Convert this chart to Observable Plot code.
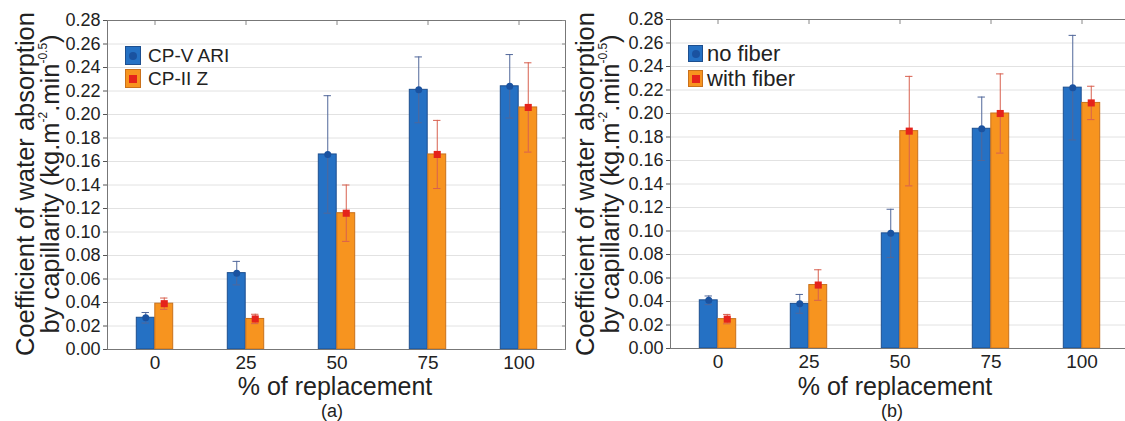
<!DOCTYPE html>
<html>
<head>
<meta charset="utf-8">
<script src="https://cdn.jsdelivr.net/npm/d3@7"></script>
<script src="https://cdn.jsdelivr.net/npm/@observablehq/plot@0.6"></script>
<style>
  body { margin: 0; background: #fff; font-family: "Liberation Sans", Arial, sans-serif; color: #222; }
  #wrap { position: relative; width: 1125px; height: 421px; overflow: hidden; background: #fff; }
  .panel { position: absolute; top: 0; width: 580px; height: 421px; }
  .panel svg { max-width: none !important; }
  .ytitle { position: absolute; width: 400px; height: 50px; line-height: 25px; font-size: 25.5px;
            text-align: center; transform: rotate(-90deg); white-space: nowrap; color: #222; }
  .ytitle sup { font-size: 12px; vertical-align: 0; position: relative; top: -12px; }
  .xtitle { position: absolute; width: 300px; text-align: center; font-size: 25px; line-height: 25px; color: #222; }
  .sub { position: absolute; width: 60px; text-align: center; font-size: 18px; line-height: 18px; color: #222; }
  .leg { position: absolute; display: flex; align-items: center; white-space: nowrap; color: #222; }
  .sw { position: relative; box-sizing: border-box; flex: none; }
  .sw i { position: absolute; left: 50%; top: 50%; transform: translate(-50%, -50%); }
  .lt { display: inline-block; overflow: visible; }
</style>
</head>
<body>
<div id="wrap">
  <div class="panel" id="pa" style="left:0px"></div>
  <div class="panel" id="pb" style="left:560px"></div>

  <div class="ytitle" style="left:-162.5px; top:159px">Coefficient of water absorption<br>by capillarity (kg.m<sup>-2</sup>.min<sup>-0.5</sup>)</div>
  <div class="ytitle" style="left:397.5px; top:159px">Coefficient of water absorption<br>by capillarity (kg.m<sup>-2</sup>.min<sup>-0.5</sup>)</div>

  <div class="xtitle" style="left:185px; top:374px">% of replacement</div>
  <div class="xtitle" style="left:745px; top:374px">% of replacement</div>
  <div class="sub" style="left:302px; top:402px">(a)</div>
  <div class="sub" style="left:862px; top:402px">(b)</div>

  <div id="lega"></div>
  <div id="legb"></div>
</div>
<script>
// ---------- data ----------
const categories = ["0", "25", "50", "75", "100"];
const yTicks = [0, 0.02, 0.04, 0.06, 0.08, 0.10, 0.12, 0.14, 0.16, 0.18, 0.20, 0.22, 0.24, 0.26, 0.28];

// panel (a)
const seriesA = ["CP-V ARI", "CP-II Z"];
const cpvMean = [0.027, 0.065, 0.166, 0.221, 0.224];
const cpvErr  = [0.0045, 0.010, 0.050, 0.028, 0.027];
const cpiiMean = [0.039, 0.026, 0.116, 0.166, 0.206];
const cpiiErr  = [0.0048, 0.004, 0.024, 0.029, 0.038];

// panel (b)
const seriesB = ["no fiber", "with fiber"];
const noFiberMean = [0.041, 0.038, 0.098, 0.187, 0.222];
const noFiberErr  = [0.0037, 0.008, 0.0205, 0.027, 0.0445];
const withFiberMean = [0.025, 0.054, 0.185, 0.200, 0.209];
const withFiberErr  = [0.004, 0.013, 0.0466, 0.0337, 0.0142];

// ---------- styles ----------
const blueFill = "#2571c4", blueStroke = "#1d4f8f", blueDot = "#1a52a0", blueErr = "#50679a";
const orFill = "#f7941f", orStroke = "#c9711c", redDot = "#e5231b", orErr = "#d8604f";

function rows(means, errs) {
  return categories.map((c, i) => ({cat: c, mean: means[i], lo: means[i] - errs[i], hi: means[i] + errs[i]}));
}

function panel(s0, s1, opts) {
  const W = 580, H = 421;
  const ml = opts.ml, mr = opts.mr, mt = opts.mt, mb = opts.mb;
  const bw = (W - ml - mr) / categories.length;
  const barW = 18.5, capW = 8;
  const half = bw / 2;
  const errMarks = (data, side, color) => {
    const off = side * barW / 2;
    const capL = half + off - capW / 2, capR = half - off - capW / 2;
    return [
      Plot.ruleX(data, {x: "cat", y1: "lo", y2: "hi", dx: off, stroke: color, strokeWidth: 1}),
      Plot.tickY(data, {x: "cat", y: "hi", stroke: color, strokeWidth: 1, insetLeft: capL, insetRight: capR}),
      Plot.tickY(data, {x: "cat", y: "lo", stroke: color, strokeWidth: 1, insetLeft: capL, insetRight: capR})
    ];
  };
  return Plot.plot({
    width: W, height: H,
    marginLeft: ml, marginRight: mr, marginTop: mt, marginBottom: mb,
    style: {fontFamily: '"Liberation Sans", Arial, sans-serif', fontSize: "18px", color: "#222", background: "transparent", overflow: "visible", maxWidth: "none"},
    x: {domain: categories, padding: 0, label: null},
    y: {domain: [0, 0.28], label: null},
    marks: [
      Plot.gridY(yTicks, {stroke: "#e2e2e2", strokeOpacity: 1}),
      Plot.barY(s0, {x: "cat", y: "mean", fill: blueFill, stroke: blueStroke, strokeWidth: 1, insetLeft: half - barW, insetRight: half}),
      Plot.barY(s1, {x: "cat", y: "mean", fill: orFill, stroke: orStroke, strokeWidth: 1, insetLeft: half, insetRight: half - barW}),
      ...errMarks(s0, -1, blueErr),
      ...errMarks(s1, 1, orErr),
      Plot.dot(s0, {x: "cat", y: "mean", dx: -barW / 2, r: 3.5, fill: blueDot, symbol: "circle"}),
      Plot.dot(s1, {x: "cat", y: "mean", dx: barW / 2, r: 4, fill: redDot, symbol: "square"}),
      Plot.frame({stroke: "#777", strokeWidth: 1}),
      Plot.axisY(yTicks, {anchor: "left", tickSize: 4, tickPadding: 3, tickFormat: d => d.toFixed(2), fontSize: 18, label: null, stroke: "#555"}),
      Plot.axisY(yTicks, {anchor: "right", tickSize: -4, tickFormat: () => "", label: null, stroke: "#888"}),
      Plot.axisX({anchor: "top", tickSize: -4, tickFormat: () => "", label: null, stroke: "#888"}),
      Plot.axisX({anchor: "bottom", tickSize: 0, tickPadding: 6, fontSize: 19, label: null})
    ]
  });
}

document.getElementById("pa").append(panel(rows(cpvMean, cpvErr), rows(cpiiMean, cpiiErr), {ml: 107, mr: 15, mt: 20, mb: 72}));
document.getElementById("pb").append(panel(rows(noFiberMean, noFiberErr), rows(withFiberMean, withFiberErr), {ml: 110, mr: 12, mt: 19, mb: 73}));

// ---------- legends ----------
function legend(el, names, x, y, sw, sh, gap, fs, tx) {
  const cont = document.getElementById(el);
  names.forEach((n, i) => {
    const row = document.createElement("div");
    row.className = "leg";
    row.style.left = x + "px";
    row.style.top = (y + i * (sh + gap)) + "px";
    row.style.height = sh + "px";
    row.style.fontSize = fs + "px";
    row.style.lineHeight = sh + "px";
    const s = document.createElement("div");
    s.className = "sw";
    s.style.width = sw + "px"; s.style.height = sh + "px";
    s.style.background = i === 0 ? blueFill : orFill;
    s.style.border = "1px solid " + (i === 0 ? blueStroke : orStroke);
    const m = document.createElement("i");
    if (i === 0) { m.style.width = "8px"; m.style.height = "8px"; m.style.borderRadius = "50%"; m.style.background = blueDot; }
    else { m.style.width = "8px"; m.style.height = "8px"; m.style.background = redDot; }
    s.append(m);
    const t = document.createElement("span");
    t.className = "lt";
    t.textContent = n;
    t.style.marginLeft = tx + "px";
    t.style.lineHeight = sh + "px";
    t.style.height = sh + "px";
    row.append(s, t);
    cont.append(row);
  });
}
legend("lega", seriesA, 125, 46, 16, 19, 4, 19, 7);
legend("legb", seriesB, 688, 45, 15, 17, 8, 22, 4);
</script>
</body>
</html>
